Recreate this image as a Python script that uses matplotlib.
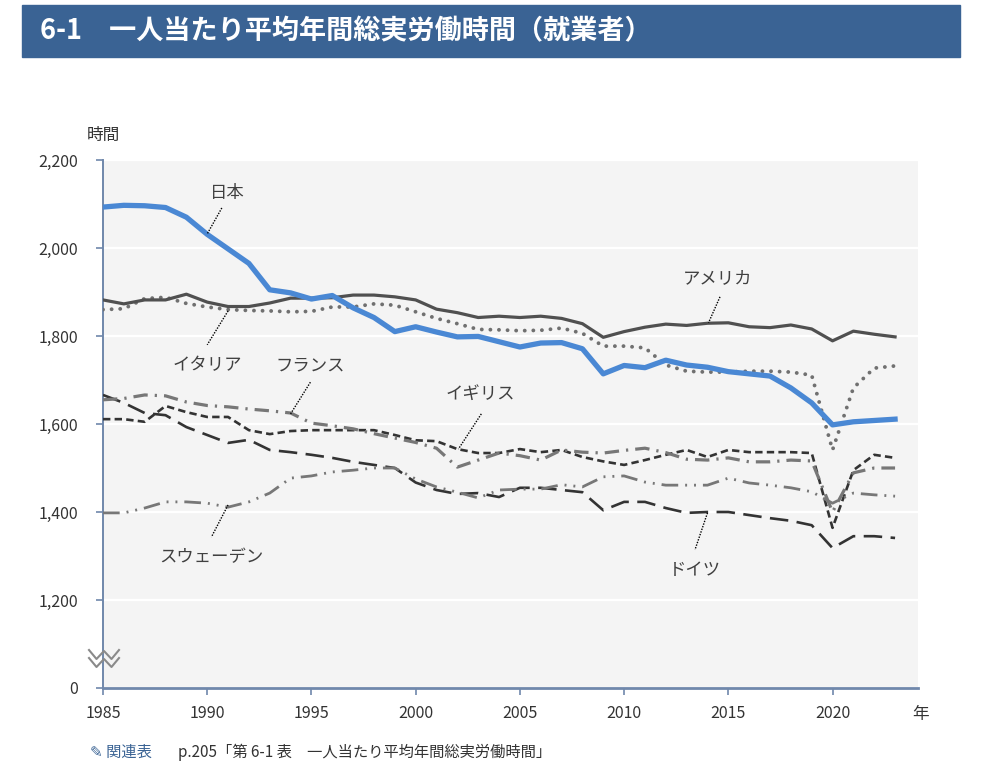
import matplotlib
matplotlib.use("Agg")
import matplotlib.pyplot as plt
import numpy as np
from matplotlib.patches import Rectangle

plt.rcParams['font.family'] = ['Noto Sans CJK JP', 'DejaVu Sans']

years = list(range(1985, 2024))

japan = [2093, 2097, 2096, 2092, 2070, 2031, 1998, 1965, 1905, 1898,
         1884, 1892, 1864, 1842, 1810, 1821, 1809, 1798, 1799, 1787,
         1775, 1784, 1785, 1771, 1714, 1733, 1728, 1745, 1734, 1729,
         1719, 1714, 1709, 1682, 1648, 1598, 1605, 1608, 1611]
usa = [1882, 1873, 1882, 1882, 1895, 1877, 1867, 1867, 1875, 1886,
       1886, 1887, 1893, 1893, 1889, 1882, 1861, 1853, 1842, 1845,
       1842, 1845, 1840, 1828, 1797, 1810, 1820, 1827, 1824, 1829,
       1830, 1821, 1819, 1825, 1816, 1789, 1811, 1804, 1798]
italy = [1860, 1862, 1885, 1888, 1874, 1866, 1860, 1858, 1857, 1855,
         1856, 1866, 1866, 1873, 1870, 1855, 1840, 1828, 1815, 1814,
         1812, 1813, 1818, 1806, 1777, 1777, 1773, 1734, 1720, 1718,
         1718, 1720, 1720, 1718, 1711, 1541, 1682, 1727, 1732]
france = [1655, 1658, 1666, 1664, 1650, 1642, 1639, 1634, 1630, 1625,
          1602, 1596, 1589, 1578, 1568, 1558, 1545, 1502, 1518, 1534,
          1528, 1518, 1541, 1536, 1534, 1540, 1545, 1535, 1520, 1518,
          1523, 1514, 1514, 1518, 1516, 1400, 1489, 1500, 1500]
uk = [1611, 1611, 1605, 1641, 1627, 1616, 1616, 1586, 1577, 1584,
      1586, 1586, 1586, 1586, 1575, 1563, 1561, 1543, 1534, 1534,
      1543, 1536, 1541, 1525, 1515, 1507, 1518, 1530, 1541, 1525,
      1541, 1536, 1536, 1536, 1534, 1364, 1495, 1530, 1523]
germany = [1666, 1648, 1625, 1620, 1593, 1575, 1557, 1564, 1541, 1536,
           1530, 1523, 1514, 1507, 1500, 1467, 1450, 1441, 1443, 1434,
           1455, 1455, 1450, 1445, 1404, 1423, 1423, 1409, 1398, 1400,
           1400, 1393, 1386, 1380, 1370, 1318, 1345, 1345, 1341]
sweden = [1398, 1398, 1409, 1423, 1423, 1420, 1411, 1423, 1443, 1477,
          1482, 1491, 1495, 1500, 1500, 1475, 1457, 1445, 1432, 1450,
          1452, 1452, 1462, 1457, 1480, 1482, 1468, 1461, 1461, 1461,
          1477, 1466, 1461, 1455, 1446, 1420, 1443, 1439, 1436]

y_ticks = [1000, 1200, 1400, 1600, 1800, 2000, 2200]
y_ticklabels = ['0', '1,200', '1,400', '1,600', '1,800', '2,000', '2,200']
x_ticks = [1985, 1990, 1995, 2000, 2005, 2010, 2015, 2020]

W, H = 996, 771
fig = plt.figure(figsize=(W / 100, H / 100), dpi=100)
fig.patch.set_facecolor('white')


def fx(px):
    return px / W


def fy(py):
    return 1 - py / H


ax = fig.add_axes([fx(103), fy(688), fx(918) - fx(103), fy(160) - fy(688)])
ax.set_facecolor('#f4f4f4')

spine_c = '#7088ab'
text_c = '#333333'

ax.plot(years, germany, color='#333333', lw=1.9, dashes=(7, 3.2), zorder=3)
ax.plot(years, uk, color='#333333', lw=1.9, dashes=(2.8, 1.6), zorder=3)
ax.plot(years, sweden, color='#777777', lw=2.0, dashes=(6, 2.5, 0.7, 2.5, 0.7, 2.5), zorder=3)
ax.plot(years, france, color='#777777', lw=2.3, dashes=(4.5, 2.2, 0.7, 2.2), zorder=3)
ax.plot(years, italy, color='#707070', lw=2.8, linestyle=(0, (0.01, 2.2)),
        dash_capstyle='round', zorder=4)
ax.plot(years, usa, color='#505050', lw=2.3, zorder=4)
ax.plot(years, japan, color='#4a88d4', lw=3.8, zorder=5, solid_joinstyle='round')

ax.set_xlim(1985, 2024.1)
ax.set_ylim(1000, 2200)
ax.set_yticks(y_ticks)
ax.set_yticklabels(y_ticklabels)
ax.set_xticks(x_ticks)
ax.grid(axis='y', color='white', lw=1.6)
ax.set_axisbelow(True)

for s in ['top', 'right']:
    ax.spines[s].set_visible(False)
ax.spines['left'].set_color(spine_c)
ax.spines['left'].set_linewidth(1.4)
ax.spines['bottom'].set_color(spine_c)
ax.spines['bottom'].set_linewidth(2.0)
ax.tick_params(axis='y', length=5, width=1.2, color=spine_c, pad=13,
               labelsize=11.5, labelcolor=text_c)
ax.tick_params(axis='x', length=5, width=1.2, color=spine_c, pad=7,
               labelsize=11.5, labelcolor=text_c)

# country labels with dotted leader lines
labels = [
    ('日本', (1990.95, 2125), (1990.7, 2091), (1990.0, 2032)),
    ('アメリカ', (2014.5, 1932), (2014.6, 1889), (2014.05, 1830)),
    ('イタリア', (1990.0, 1734), (1991.0, 1857), (1990.0, 1780)),
    ('フランス', (1994.95, 1734), (1994.95, 1695), (1994.0, 1623)),
    ('イギリス', (2003.1, 1668), (2003.15, 1623), (2002.05, 1543)),
    ('スウェーデン', (1990.2, 1298), (1991.0, 1416), (1990.2, 1343)),
    ('ドイツ', (2013.4, 1268), (2014.0, 1398), (2013.4, 1314)),
]
for name, tpos, p1, p2 in labels:
    ax.text(tpos[0], tpos[1], name, ha='center', va='center',
            fontsize=12.5, color='#404040', zorder=6)
    ax.plot([p1[0], p2[0]], [p1[1], p2[1]], color='black', lw=1.0,
            linestyle=(0, (1, 1)), zorder=6)

# axis break mark
for y0 in (650, 658):
    xs = [89, 96.5, 104, 111.5, 119]
    ys = [y0, y0 + 9, y0 + 1, y0 + 9, y0]
    fig.add_artist(plt.Line2D([fx(v) for v in xs], [fy(v) for v in ys],
                              color='#8a8a8a', lw=1.5))

fig.text(fx(103), fy(135), '時間', ha='center', va='center', fontsize=12, color=text_c)
fig.text(fx(921), fy(715), '年', ha='center', va='center', fontsize=12, color=text_c)

# title bar
fig.patches.append(Rectangle((fx(22), fy(57)), fx(960) - fx(22), fy(5) - fy(57),
                             transform=fig.transFigure, color='#3a6394', zorder=0))
fig.text(fx(40), fy(31), '6-1　一人当たり平均年間総実労働時間（就業者）',
         ha='left', va='center', fontsize=19.5, fontweight='bold', color='white')

# footnote
fig.text(fx(90), fy(752), '✎ 関連表', ha='left', va='center', fontsize=11,
         color='#3a6394')
fig.text(fx(178), fy(752), 'p.205「第 6-1 表　一人当たり平均年間総実労働時間」',
         ha='left', va='center', fontsize=11, color=text_c)

fig.savefig('out.png', dpi=100)
